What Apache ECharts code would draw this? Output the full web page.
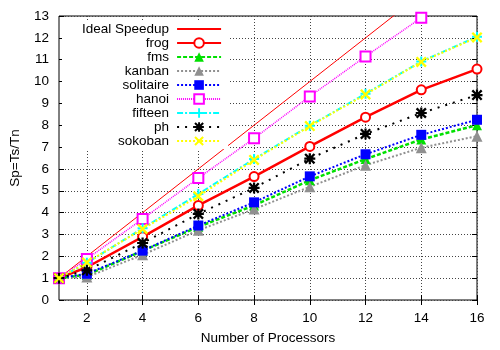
<!DOCTYPE html>
<html>
<head>
<meta charset="utf-8">
<script src="https://cdn.jsdelivr.net/npm/echarts@6/dist/echarts.min.js"></script>
<style>
  html, body { margin: 0; padding: 0; background: #fff; }
  #chart { width: 500px; height: 350px; }
</style>
</head>
<body>
<div id="chart"></div>
<script>
var procs = [1, 2, 4, 6, 8, 10, 12, 14, 16];
var xTicks = [2, 4, 6, 8, 10, 12, 14, 16];
var ideal = [1, 2, 4, 6, 8, 10, 12, 14, 16];
var frog = [1, 1.5, 2.89, 4.33, 5.65, 7.03, 8.37, 9.62, 10.57];
var fms = [1, 1.15, 2.25, 3.35, 4.33, 5.48, 6.45, 7.35, 8.0];
var kanban = [1, 1.05, 2.07, 3.19, 4.16, 5.18, 6.17, 6.97, 7.5];
var solitaire = [1, 1.2, 2.26, 3.41, 4.47, 5.66, 6.67, 7.56, 8.25];
var hanoi = [1, 1.88, 3.71, 5.58, 7.4, 9.32, 11.15, 12.92, 14.6];
var fifteen = [1, 1.7, 3.28, 4.85, 6.45, 7.98, 9.44, 10.92, 12.05];
var ph = [1, 1.36, 2.61, 3.94, 5.13, 6.47, 7.6, 8.56, 9.38];
var sokoban = [1, 1.72, 3.25, 4.75, 6.41, 7.96, 9.41, 10.9, 12.02];

var FONT = 'Liberation Sans';
var plusPath = 'path://M4,0H6V4H10V6H6V10H4V6H0V4H4Z';
var crossPath = 'path://M0,1.5L1.5,0L5,3.5L8.5,0L10,1.5L6.5,5L10,8.5L8.5,10L5,6.5L1.5,10L0,8.5L3.5,5Z';
var starPath = 'path://M4,0H6V4H10V6H6V10H4V6H0V4H4Z M0,1.5L1.5,0L5,3.5L8.5,0L10,1.5L6.5,5L10,8.5L8.5,10L5,6.5L1.5,10L0,8.5L3.5,5Z';

function pts(vals) {
  return procs.map(function (p, i) { return [p, vals[i]]; });
}

function line(name, vals, color, width, dash, symbol, size) {
  return {
    name: name,
    type: 'line',
    data: pts(vals),
    symbol: symbol,
    symbolSize: size,
    showSymbol: symbol !== 'none',
    itemStyle: { color: color, borderWidth: 2 },
    lineStyle: { color: color, width: width, type: dash },
    emphasis: { disabled: true },
    animation: false
  };
}

var chart = echarts.init(document.getElementById('chart'));
chart.setOption({
  backgroundColor: '#fff',
  grid: { left: 54, right: 23, top: 16, bottom: 42, show: true, borderColor: '#000', borderWidth: 1 },
  legend: {
    orient: 'vertical',
    align: 'right',
    left: 62,
    top: 20,
    padding: [2, 6, 1, 20],
    backgroundColor: '#fff',
    itemWidth: 44,
    itemHeight: 12,
    itemGap: 0,
    textStyle: { fontFamily: FONT, fontSize: 13.5, color: '#000', lineHeight: 14, padding: [0, 3, 0, 0] },
    data: [
      { name: 'Ideal Speedup', itemStyle: { color: 'rgba(0,0,0,0)', borderWidth: 0 } },
      'frog', 'fms', 'kanban', 'solitaire', 'hanoi', 'fifteen', 'ph', 'sokoban'
    ]
  },
  xAxis: [{
    type: 'value',
    min: 1,
    max: 16,
    name: 'Number of Processors',
    nameLocation: 'middle',
    nameGap: 31,
    nameTextStyle: { fontFamily: FONT, fontSize: 13.5, color: '#000' },
    axisLine: { show: false },
    axisTick: { inside: true, length: 5, customValues: xTicks, lineStyle: { color: '#000' } },
    axisLabel: { customValues: xTicks, margin: 11, fontFamily: FONT, fontSize: 13.5, color: '#000' },
    splitLine: { show: true, lineStyle: { color: '#444', type: [1, 2], width: 1 } }
  }, {
    type: 'value',
    position: 'top',
    min: 1,
    max: 16,
    axisLine: { show: false },
    axisTick: { inside: true, length: 5, customValues: xTicks, lineStyle: { color: '#000' } },
    axisLabel: { show: false },
    splitLine: { show: false }
  }],
  yAxis: [{
    type: 'value',
    min: 0,
    max: 13,
    interval: 1,
    name: 'Sp=Ts/Tn',
    nameLocation: 'middle',
    nameGap: 37,
    nameTextStyle: { fontFamily: FONT, fontSize: 13.5, color: '#000' },
    axisLine: { show: false },
    axisTick: { inside: true, length: 5, lineStyle: { color: '#000' } },
    axisLabel: { margin: 10, fontFamily: FONT, fontSize: 13.5, color: '#000' },
    splitLine: { show: true, lineStyle: { color: '#444', type: [1, 2], width: 1 } }
  }, {
    type: 'value',
    position: 'right',
    min: 0,
    max: 13,
    interval: 1,
    axisLine: { show: false },
    axisTick: { inside: true, length: 5, lineStyle: { color: '#000' } },
    axisLabel: { show: false },
    splitLine: { show: false }
  }],
  series: [
    line('Ideal Speedup', ideal, '#ff0000', 1, 'solid', 'none', 0),
    line('frog', frog, '#ff0000', 2.5, 'solid', 'emptyCircle', 9),
    line('fms', fms, '#00e000', 2.5, [4, 2], 'triangle', 10),
    line('kanban', kanban, '#909090', 2, [2, 2], 'triangle', 11),
    line('solitaire', solitaire, '#0000ff', 2, [2, 2], 'rect', 10),
    line('hanoi', hanoi, '#ff00ff', 1.5, [1, 1], 'emptyRect', 10),
    line('fifteen', fifteen, '#00ffff', 2, [6, 2, 2, 2], plusPath, 10),
    line('ph', ph, '#000000', 2, [2, 6], starPath, 11),
    line('sokoban', sokoban, '#ffff00', 2, [2, 2], crossPath, 11)
  ]
});
</script>
</body>
</html>
